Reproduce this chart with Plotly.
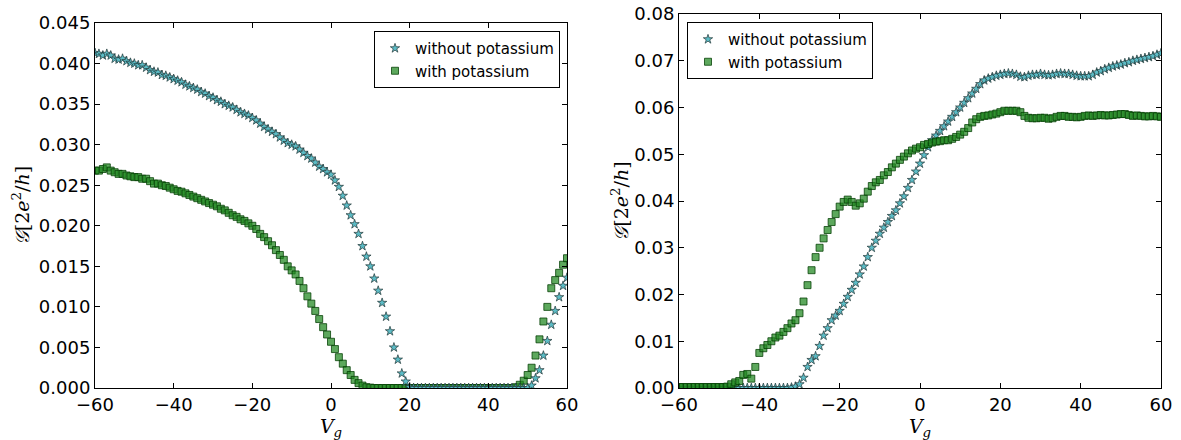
import plotly.graph_objects as go

vg = list(range(-60, 61))

left_without = [
    .0413, .0412, .0410, .0412, .0410, .0406, .0405, .0406, .0403, .0401,
    .0400, .0398, .0398, .0395, .0392, .0390, .0389, .0386, .0385, .0383,
    .0381, .0379, .0377, .0374, .0372, .0370, .0368, .0365, .0363, .0360,
    .0358, .0355, .0353, .0350, .0348, .0346, .0343, .0340, .0338, .0336,
    .0333, .0330, .0326, .0322, .0319, .0316, .0313, .0309, .0305, .0302,
    .0300, .0298, .0294, .0290, .0286, .0283, .0278, .0273, .0270, .0266,
    .0263, .0256, .0248, .0237, .0225, .0213, .0202, .0190, .0175, .0162,
    .0150, .0135, .0120, .0105, .0088, .0070, .0050, .0035, .0018, .0008,
    .0001, 0, 0, 0, 0, 0, 0, 0, 0, 0,
    0, 0, 0, 0, 0, 0, 0, 0, 0, 0,
    0, 0, 0, 0, 0, 0, 0, 0, 0, 0,
    0, .0003, .0012, .0022, .0040, .0058, .0078, .0095, .0112, .0126,
    .0136]

left_with = [
    .0268, .0268, .0270, .0272, .0268, .0266, .0264, .0264, .0262, .0261,
    .0260, .0260, .0258, .0258, .0255, .0252, .0252, .0250, .0249, .0247,
    .0245, .0243, .0242, .0240, .0238, .0236, .0234, .0232, .0230, .0228,
    .0226, .0224, .0221, .0219, .0216, .0213, .0211, .0208, .0206, .0203,
    .0200, .0196, .0190, .0186, .0181, .0176, .0170, .0164, .0158, .0150,
    .0145, .0140, .0132, .0123, .0113, .0104, .0095, .0085, .0075, .0066,
    .0057, .0048, .0038, .0030, .0022, .0016, .0010, .0006, .0003, .0001,
    .00005, 0, 0, 0, 0, 0, 0, 0, 0, 0,
    0, 0, 0, 0, 0, 0, 0, 0, 0, 0,
    0, 0, 0, 0, 0, 0, 0, 0, 0, 0,
    0, 0, 0, 0, 0, 0, 0, .0001, .0004, .0009,
    .0016, .0025, .0040, .0060, .0082, .0100, .0123, .0133, .0142, .0152,
    .0160]

right_without = [
    0, 0, 0, 0, 0, 0, 0, 0, 0, 0,
    0, 0, 0, 0, 0, 0, 0, 0, 0, 0,
    0, 0, 0, 0, 0, 0, 0, 0, .0001, .0003,
    .0008, .0022, .0045, .0060, .0068, .0090, .0112, .0128, .0145, .0155,
    .0165, .0180, .0195, .0210, .0225, .0243, .0260, .0280, .0300, .0315,
    .0330, .0343, .0355, .0368, .0380, .0395, .0410, .0428, .0445, .0463,
    .0480, .0498, .0515, .0530, .0540, .0550, .0560, .0570, .0580, .0590,
    .0600, .0610, .0620, .0630, .0640, .0650, .0658, .0662, .0665, .0668,
    .0670, .0672, .0673, .0672, .0670, .0666, .0665, .0668, .0670, .0670,
    .0672, .0670, .0669, .0670, .0672, .0673, .0672, .0672, .0670, .0668,
    .0667, .0667, .0667, .0670, .0675, .0678, .0682, .0685, .0688, .0690,
    .0692, .0695, .0697, .0700, .0702, .0704, .0706, .0708, .0710, .0713,
    .0716]

right_with = [
    .0002, .0002, .0002, .0002, .0002, .0002, .0002, .0002, .0002, .0002,
    .0002, .0002, .0003, .0008, .0012, .0015, .0028, .0030, .0020, .0045,
    .0075, .0085, .0092, .0100, .0108, .0112, .0120, .0128, .0138, .0145,
    .0160, .0185, .0220, .0252, .0280, .0300, .0320, .0338, .0355, .0372,
    .0388, .0398, .0403, .0398, .0390, .0395, .0405, .0420, .0432, .0440,
    .0445, .0455, .0462, .0472, .0480, .0488, .0495, .0502, .0508, .0512,
    .0515, .0520, .0522, .0525, .0527, .0528, .0530, .0530, .0533, .0537,
    .0542, .0548, .0556, .0568, .0575, .0580, .0582, .0583, .0585, .0587,
    .0590, .0593, .0593, .0593, .0593, .0590, .0582, .0578, .0577, .0577,
    .0578, .0578, .0576, .0577, .0580, .0582, .0582, .0580, .0580, .0579,
    .0580, .0582, .0583, .0582, .0583, .0584, .0583, .0583, .0584, .0585,
    .0586, .0586, .0584, .0582, .0583, .0582, .0581, .0581, .0582, .0581,
    .0580]

x_ticks = [-60, -40, -20, 0, 20, 40, 60]
left_yticks = [0.000, 0.005, 0.010, 0.015, 0.020, 0.025, 0.030, 0.035, 0.040, 0.045]
right_yticks = [0.00, 0.01, 0.02, 0.03, 0.04, 0.05, 0.06, 0.07, 0.08]

W, H = 1181, 440
STAR_FILL = "#5cbcc6"
STAR_EDGE = "#1f3535"
SQ_FILL = "rgba(30,135,30,0.72)"
SQ_EDGE = "rgba(0,60,0,0.85)"

fig = go.Figure()

def add_series(x, y, xa, ya, legend, name, kind):
    if kind == "star":
        marker = dict(symbol="star", size=7, color=STAR_FILL,
                      line=dict(color=STAR_EDGE, width=0.7))
    else:
        marker = dict(symbol="square", size=7, color=SQ_FILL,
                      line=dict(color=SQ_EDGE, width=0.9))
    fig.add_trace(go.Scatter(x=x, y=y, mode="markers", name=name,
                             marker=marker, xaxis=xa, yaxis=ya,
                             legend=legend))

add_series(vg, left_with, "x", "y", "legend", "with potassium", "sq")
add_series(vg, left_without, "x", "y", "legend", "without potassium", "star")
add_series(vg, right_without, "x2", "y2", "legend2", "without potassium", "star")
add_series(vg, right_with, "x2", "y2", "legend2", "with potassium", "sq")

tickfont = dict(family="DejaVu Sans", size=18, color="black")
titlefont = dict(family="DejaVu Serif", size=19, color="black")

common = dict(showline=True, linecolor="black", linewidth=1, mirror="allticks",
              ticks="inside", ticklen=5, tickcolor="black", tickwidth=1,
              showgrid=False, zeroline=False, tickfont=tickfont,
              automargin=False)

ylab = "<i>𝒢</i>[2<i>e</i><sup>2</sup>/<i>h</i>]"
xlab = "<i>V<sub>g</sub></i>"

fig.update_layout(
    width=W, height=H, margin=dict(l=0, r=0, t=0, b=0),
    paper_bgcolor="white", plot_bgcolor="white",
    xaxis=dict(domain=[95 / W, 567 / W], range=[-60, 60], tickvals=x_ticks,
               anchor="y", title=dict(text=xlab, font=titlefont, standoff=2), **common),
    yaxis=dict(domain=[(H - 388) / H, (H - 23) / H], range=[0, 0.045],
               tickvals=left_yticks, tickformat=".3f", anchor="x",
               title=dict(text=ylab, font=titlefont, standoff=4), **common),
    xaxis2=dict(domain=[679 / W, 1161 / W], range=[-60, 60], tickvals=x_ticks,
                anchor="y2", title=dict(text=xlab, font=titlefont, standoff=2), **common),
    yaxis2=dict(domain=[(H - 388) / H, (H - 14) / H], range=[0, 0.08],
                tickvals=right_yticks, tickformat=".2f", anchor="x2",
                title=dict(text=ylab, font=titlefont, standoff=0), **common),
    legend=dict(x=560 / W, y=(H - 31) / H, xanchor="right", yanchor="top",
                bgcolor="white", bordercolor="black", borderwidth=1,
                font=dict(family="DejaVu Sans", size=15, color="black"),
                traceorder="reversed", itemsizing="trace",
                tracegroupgap=0),
    legend2=dict(x=687 / W, y=(H - 22) / H, xanchor="left", yanchor="top",
                 bgcolor="white", bordercolor="black", borderwidth=1,
                 font=dict(family="DejaVu Sans", size=15, color="black"),
                 traceorder="normal", itemsizing="trace",
                 tracegroupgap=0),
    showlegend=True,
)

fig.write_html("out.html")
